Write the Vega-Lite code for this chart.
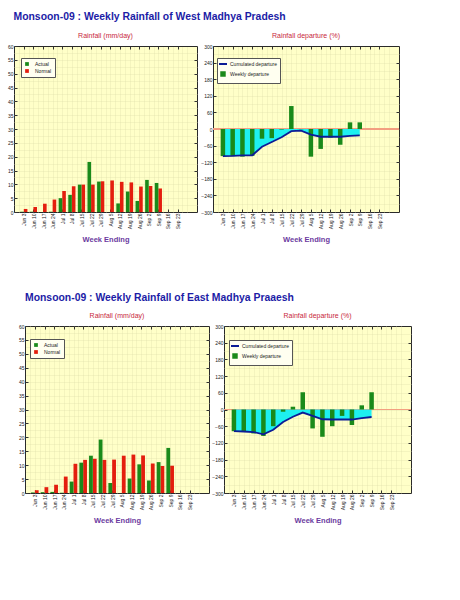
{
  "$schema": "https://vega.github.io/schema/vega-lite/v6.json",
  "background": "white",
  "padding": {"left": 0, "top": 12, "right": 0, "bottom": 0},
  "config": {
    "font": "Liberation Sans",
    "view": {"stroke": "#2a2a2a", "strokeWidth": 1, "fill": "#ffffc8"},
    "axis": {"labelFontSize": 5, "labelColor": "#222222", "domain": false, "ticks": false, "grid": false, "title": null, "labelOverlap": false, "labelBound": false, "labelFlush": false},
    "title": {"font": "Liberation Sans"},
    "legend": {"labelFont": "Liberation Sans"}
  },
  "datasets": {
    "wRain": [
      {"w": 0, "s": "Actual", "v": 0.1}, {"w": 0, "s": "Normal", "v": 1.1},
      {"w": 1, "s": "Actual", "v": 0.1}, {"w": 1, "s": "Normal", "v": 1.8},
      {"w": 2, "s": "Actual", "v": 0.0}, {"w": 2, "s": "Normal", "v": 3.0},
      {"w": 3, "s": "Actual", "v": 0.1}, {"w": 3, "s": "Normal", "v": 4.5},
      {"w": 4, "s": "Actual", "v": 5.0}, {"w": 4, "s": "Normal", "v": 7.6},
      {"w": 5, "s": "Actual", "v": 6.2}, {"w": 5, "s": "Normal", "v": 9.3},
      {"w": 6, "s": "Actual", "v": 9.9}, {"w": 6, "s": "Normal", "v": 9.9},
      {"w": 7, "s": "Actual", "v": 18.1}, {"w": 7, "s": "Normal", "v": 9.9},
      {"w": 8, "s": "Actual", "v": 11.0}, {"w": 8, "s": "Normal", "v": 11.1},
      {"w": 9, "s": "Actual", "v": 0.0}, {"w": 9, "s": "Normal", "v": 11.4},
      {"w": 10, "s": "Actual", "v": 3.1}, {"w": 10, "s": "Normal", "v": 10.9},
      {"w": 11, "s": "Actual", "v": 7.4}, {"w": 11, "s": "Normal", "v": 10.7},
      {"w": 12, "s": "Actual", "v": 4.0}, {"w": 12, "s": "Normal", "v": 9.2},
      {"w": 13, "s": "Actual", "v": 11.6}, {"w": 13, "s": "Normal", "v": 9.4},
      {"w": 14, "s": "Actual", "v": 10.5}, {"w": 14, "s": "Normal", "v": 8.5}
    ],
    "wDep": [
      {"w": 0, "weekly": -98, "cum": -98},
      {"w": 1, "weekly": -98, "cum": -97},
      {"w": 2, "weekly": -100, "cum": -95},
      {"w": 3, "weekly": -97, "cum": -95},
      {"w": 4, "weekly": -35, "cum": -64},
      {"w": 5, "weekly": -33, "cum": -47},
      {"w": 6, "weekly": -2, "cum": -30},
      {"w": 7, "weekly": 83, "cum": -8},
      {"w": 8, "weekly": -1, "cum": -6},
      {"w": 9, "weekly": -100, "cum": -20},
      {"w": 10, "weekly": -72, "cum": -28},
      {"w": 11, "weekly": -31, "cum": -28},
      {"w": 12, "weekly": -57, "cum": -28},
      {"w": 13, "weekly": 24, "cum": -25},
      {"w": 14, "weekly": 24, "cum": -23}
    ],
    "eRain": [
      {"w": 0, "s": "Actual", "v": 0.2}, {"w": 0, "s": "Normal", "v": 1.0},
      {"w": 1, "s": "Actual", "v": 0.3}, {"w": 1, "s": "Normal", "v": 2.1},
      {"w": 2, "s": "Actual", "v": 0.4}, {"w": 2, "s": "Normal", "v": 3.0},
      {"w": 3, "s": "Actual", "v": 0.1}, {"w": 3, "s": "Normal", "v": 5.9},
      {"w": 4, "s": "Actual", "v": 4.1}, {"w": 4, "s": "Normal", "v": 10.5},
      {"w": 5, "s": "Actual", "v": 10.9}, {"w": 5, "s": "Normal", "v": 11.9},
      {"w": 6, "s": "Actual", "v": 13.4}, {"w": 6, "s": "Normal", "v": 12.3},
      {"w": 7, "s": "Actual", "v": 19.2}, {"w": 7, "s": "Normal", "v": 11.9},
      {"w": 8, "s": "Actual", "v": 3.6}, {"w": 8, "s": "Normal", "v": 12.0},
      {"w": 9, "s": "Actual", "v": 0.0}, {"w": 9, "s": "Normal", "v": 13.4},
      {"w": 10, "s": "Actual", "v": 5.2}, {"w": 10, "s": "Normal", "v": 13.8},
      {"w": 11, "s": "Actual", "v": 10.3}, {"w": 11, "s": "Normal", "v": 13.5},
      {"w": 12, "s": "Actual", "v": 4.5}, {"w": 12, "s": "Normal", "v": 10.6},
      {"w": 13, "s": "Actual", "v": 11.1}, {"w": 13, "s": "Normal", "v": 9.7},
      {"w": 14, "s": "Actual", "v": 16.2}, {"w": 14, "s": "Normal", "v": 9.8}
    ],
    "eDep": [
      {"w": 0, "weekly": -78, "cum": -78},
      {"w": 1, "weekly": -78, "cum": -79},
      {"w": 2, "weekly": -86, "cum": -81},
      {"w": 3, "weekly": -95, "cum": -89},
      {"w": 4, "weekly": -60, "cum": -73},
      {"w": 5, "weekly": -8, "cum": -45},
      {"w": 6, "weekly": 10, "cum": -26},
      {"w": 7, "weekly": 62, "cum": -11},
      {"w": 8, "weekly": -68, "cum": -23},
      {"w": 9, "weekly": -98, "cum": -35},
      {"w": 10, "weekly": -60, "cum": -36},
      {"w": 11, "weekly": -23, "cum": -36},
      {"w": 12, "weekly": -56, "cum": -36},
      {"w": 13, "weekly": 15, "cum": -31},
      {"w": 14, "weekly": 62, "cum": -27}
    ]
  },
  "spacing": 49,
  "resolve": {"scale": {"color": "independent"}, "legend": {"color": "independent"}},
  "vconcat": [
    {
      "title": {"text": "Monsoon-09 : Weekly Rainfall of  West Madhya Pradesh", "fontSize": 10.4, "fontWeight": "bold", "color": "#1c1ca6", "anchor": "start", "offset": 9, "dx": 13},
      "spacing": 2,
      "resolve": {"scale": {"color": "independent"}, "legend": {"color": "independent"}},
      "hconcat": [
        {
          "width": 183, "height": 166,
          "title": {"text": "Rainfall (mm/day)", "fontSize": 7, "fontWeight": "normal", "color": "#c8283c", "offset": 5},
          "data": {"name": "wRain"},
          "resolve": {"axis": {"x": "independent", "y": "independent"}},
          "layer": [
            {
              "mark": {"type": "point", "opacity": 0},
              "encoding": {
                "x": {"field": "w", "type": "quantitative", "scale": {"domain": [-0.5, 17.5], "nice": false, "zero": false},
                  "axis": {"orient": "top", "values": [-0.5, 0, 0.5, 1, 1.5, 2, 2.5, 3, 3.5, 4, 4.5, 5, 5.5, 6, 6.5, 7, 7.5, 8, 8.5, 9, 9.5, 10, 10.5, 11, 11.5, 12, 12.5, 13, 13.5, 14, 14.5, 15, 15.5, 16, 16.5, 17], "labels": false, "grid": true, "gridColor": "#dcdca8", "gridDash": [1, 1], "gridWidth": 0.6, "minExtent": 0, "maxExtent": 0}},
                "y": {"field": "v", "type": "quantitative", "scale": {"domain": [0, 60], "nice": false},
                  "axis": {"orient": "right", "values": [2.5, 5, 7.5, 10, 12.5, 15, 17.5, 20, 22.5, 25, 27.5, 30, 32.5, 35, 37.5, 40, 42.5, 45, 47.5, 50, 52.5, 55, 57.5], "labels": false, "grid": true, "gridColor": "#dcdca8", "gridDash": [1, 1], "gridWidth": 0.6, "minExtent": 0, "maxExtent": 0}}
              }
            },
            {
              "transform": [{"filter": "datum.s == 'Normal'"}],
              "mark": {"type": "bar", "width": 3.6, "xOffset": 1.8},
              "encoding": {
                "x": {"field": "w", "type": "quantitative",
                  "axis": {"orient": "top", "values": [0, 1, 2, 3, 4, 5, 6, 7, 8, 9, 10, 11, 12, 13, 14, 15, 16], "labels": false, "ticks": true, "tickSize": -3, "tickColor": "#333333", "minExtent": 0, "maxExtent": 0}},
                "y": {"field": "v", "type": "quantitative",
                  "axis": {"orient": "right", "values": [5, 10, 15, 20, 25, 30, 35, 40, 45, 50, 55], "labels": false, "ticks": true, "tickSize": -3, "tickColor": "#333333", "minExtent": 0, "maxExtent": 0}},
                "color": {"field": "s", "type": "nominal", "scale": {"domain": ["Actual", "Normal"], "range": ["#1a8a1a", "#e41e0e"]},
                  "legend": {"orient": "none", "legendX": 7, "legendY": 12, "title": null, "direction": "vertical", "symbolType": "square", "symbolSize": 14, "labelFontSize": 5, "labelColor": "#222222", "strokeColor": "#555555", "fillColor": "#fffff0", "padding": 3, "rowPadding": 1, "labelOffset": 5}}
              }
            },
            {
              "transform": [{"filter": "datum.s == 'Actual'"}],
              "mark": {"type": "bar", "width": 3.6, "xOffset": -1.8},
              "encoding": {
                "x": {"field": "w", "type": "quantitative",
                  "axis": {"orient": "bottom", "values": [0, 1, 2, 3, 4, 5, 6, 7, 8, 9, 10, 11, 12, 13, 14, 15, 16],
                    "labelExpr": "['Jun 3','Jun 10','Jun 17','Jun 24','Jul 1','Jul 8','Jul 15','Jul 22','Jul 29','Aug 5','Aug 12','Aug 19','Aug 26','Sep 2','Sep 9','Sep 16','Sep 23'][datum.value]",
                    "labelAngle": -90, "labelPadding": 4, "ticks": true, "tickSize": -3, "tickColor": "#333333",
                    "title": "Week Ending", "titleFontSize": 7.5, "titleFontWeight": "bold", "titleColor": "#6b3aa0", "titlePadding": 7}},
                "y": {"field": "v", "type": "quantitative",
                  "axis": {"orient": "left", "values": [0, 5, 10, 15, 20, 25, 30, 35, 40, 45, 50, 55, 60], "labelPadding": 4, "ticks": true, "tickSize": -3, "tickColor": "#333333", "minExtent": 13, "maxExtent": 13}},
                "color": {"field": "s", "type": "nominal"}
              }
            }
          ]
        },
        {
          "width": 186, "height": 166,
          "title": {"text": "Rainfall departure (%)", "fontSize": 7, "fontWeight": "normal", "color": "#c8283c", "offset": 5},
          "data": {"name": "wDep"},
          "resolve": {"axis": {"x": "independent", "y": "independent"}},
          "layer": [
            {
              "mark": {"type": "point", "opacity": 0},
              "encoding": {
                "x": {"field": "w", "type": "quantitative", "scale": {"domain": [-0.5, 17.5], "nice": false, "zero": false},
                  "axis": {"orient": "top", "values": [-0.5, 0, 0.5, 1, 1.5, 2, 2.5, 3, 3.5, 4, 4.5, 5, 5.5, 6, 6.5, 7, 7.5, 8, 8.5, 9, 9.5, 10, 10.5, 11, 11.5, 12, 12.5, 13, 13.5, 14, 14.5, 15, 15.5, 16, 16.5, 17], "labels": false, "grid": true, "gridColor": "#dcdca8", "gridDash": [1, 1], "gridWidth": 0.6, "minExtent": 0, "maxExtent": 0}},
                "y": {"field": "weekly", "type": "quantitative", "scale": {"domain": [-300, 300], "nice": false},
                  "axis": {"orient": "right", "values": [-270, -240, -210, -180, -150, -120, -90, -60, -30, 0, 30, 60, 90, 120, 150, 180, 210, 240, 270], "labels": false, "grid": true, "gridColor": "#dcdca8", "gridDash": [1, 1], "gridWidth": 0.6, "minExtent": 0, "maxExtent": 0}}
              }
            },
            {
              "mark": {"type": "rule", "color": "#f2a080", "strokeWidth": 0.8},
              "encoding": {"y": {"datum": 0, "type": "quantitative", "axis": null}}
            },
            {
              "mark": {"type": "area", "color": "#1ef0f0", "opacity": 1},
              "encoding": {
                "x": {"field": "w", "type": "quantitative",
                  "axis": {"orient": "top", "values": [0, 1, 2, 3, 4, 5, 6, 7, 8, 9, 10, 11, 12, 13, 14, 15, 16], "labels": false, "ticks": true, "tickSize": -3, "tickColor": "#333333", "minExtent": 0, "maxExtent": 0}},
                "y": {"field": "cum", "type": "quantitative",
                  "axis": {"orient": "right", "values": [-240, -180, -120, -60, 0, 60, 120, 180, 240], "labels": false, "ticks": true, "tickSize": -3, "tickColor": "#333333", "minExtent": 0, "maxExtent": 0}},
                "y2": {"datum": 0}
              }
            },
            {
              "mark": {"type": "bar", "width": 4.5},
              "encoding": {
                "x": {"field": "w", "type": "quantitative",
                  "axis": {"orient": "bottom", "values": [0, 1, 2, 3, 4, 5, 6, 7, 8, 9, 10, 11, 12, 13, 14, 15, 16],
                    "labelExpr": "['Jun 3','Jun 10','Jun 17','Jun 24','Jul 1','Jul 8','Jul 15','Jul 22','Jul 29','Aug 5','Aug 12','Aug 19','Aug 26','Sep 2','Sep 9','Sep 16','Sep 23'][datum.value]",
                    "labelAngle": -90, "labelPadding": 4, "ticks": true, "tickSize": -3, "tickColor": "#333333",
                    "title": "Week Ending", "titleFontSize": 7.5, "titleFontWeight": "bold", "titleColor": "#6b3aa0", "titlePadding": 7}},
                "y": {"field": "weekly", "type": "quantitative",
                  "axis": {"orient": "left", "values": [-300, -240, -180, -120, -60, 0, 60, 120, 180, 240, 300], "labelPadding": 4, "ticks": true, "tickSize": -3, "tickColor": "#333333", "minExtent": 12, "maxExtent": 12}},
                "y2": {"datum": 0},
                "color": {"datum": "Weekly departure", "type": "nominal",
                  "scale": {"domain": ["Cumulated departure", "Weekly departure"], "range": ["#0c1c96", "#1a8a1a"]},
                  "legend": {"orient": "none", "legendX": 4, "legendY": 12, "title": null, "direction": "vertical", "labelFontSize": 5, "labelColor": "#222222", "strokeColor": "#555555", "fillColor": "#fffff0", "padding": 3, "rowPadding": 0, "labelOffset": 4, "symbolSize": 64,
                    "encode": {"symbols": {"update": {
                      "shape": {"signal": "datum.value === 'Cumulated departure' ? 'stroke' : 'square'"},
                      "size": {"signal": "datum.value === 'Cumulated departure' ? 64 : 12"},
                      "strokeWidth": {"value": 2},
                      "stroke": {"signal": "datum.value === 'Cumulated departure' ? '#0c1c96' : 'transparent'"},
                      "fill": {"signal": "datum.value === 'Cumulated departure' ? 'transparent' : '#1a8a1a'"},
                      "opacity": {"value": 1}}}}}}
              }
            },
            {
              "mark": {"type": "line", "strokeWidth": 1.8},
              "encoding": {
                "x": {"field": "w", "type": "quantitative", "axis": null},
                "y": {"field": "cum", "type": "quantitative", "axis": null},
                "color": {"datum": "Cumulated departure", "type": "nominal"}
              }
            }
          ]
        }
      ]
    },
    {
      "title": {"text": "Monsoon-09 : Weekly Rainfall of  East Madhya Praaesh", "fontSize": 10.4, "fontWeight": "bold", "color": "#1c1ca6", "anchor": "start", "offset": 8, "dx": 11},
      "spacing": 1,
      "resolve": {"scale": {"color": "independent"}, "legend": {"color": "independent"}},
      "hconcat": [
        {
          "width": 1, "height": 1,
          "view": {"stroke": null, "fill": null},
          "data": {"values": [{"a": 0}]},
          "mark": {"type": "point", "opacity": 0, "size": 0, "strokeWidth": 0},
          "encoding": {}
        },
        {
          "width": 184, "height": 167,
          "title": {"text": "Rainfall (mm/day)", "fontSize": 7, "fontWeight": "normal", "color": "#c8283c", "offset": 5},
          "data": {"name": "eRain"},
          "resolve": {"axis": {"x": "independent", "y": "independent"}},
          "layer": [
            {
              "mark": {"type": "point", "opacity": 0},
              "encoding": {
                "x": {"field": "w", "type": "quantitative", "scale": {"domain": [-0.5, 17.5], "nice": false, "zero": false},
                  "axis": {"orient": "top", "values": [-0.5, 0, 0.5, 1, 1.5, 2, 2.5, 3, 3.5, 4, 4.5, 5, 5.5, 6, 6.5, 7, 7.5, 8, 8.5, 9, 9.5, 10, 10.5, 11, 11.5, 12, 12.5, 13, 13.5, 14, 14.5, 15, 15.5, 16, 16.5, 17], "labels": false, "grid": true, "gridColor": "#dcdca8", "gridDash": [1, 1], "gridWidth": 0.6, "minExtent": 0, "maxExtent": 0}},
                "y": {"field": "v", "type": "quantitative", "scale": {"domain": [0, 60], "nice": false},
                  "axis": {"orient": "right", "values": [2.5, 5, 7.5, 10, 12.5, 15, 17.5, 20, 22.5, 25, 27.5, 30, 32.5, 35, 37.5, 40, 42.5, 45, 47.5, 50, 52.5, 55, 57.5], "labels": false, "grid": true, "gridColor": "#dcdca8", "gridDash": [1, 1], "gridWidth": 0.6, "minExtent": 0, "maxExtent": 0}}
              }
            },
            {
              "transform": [{"filter": "datum.s == 'Normal'"}],
              "mark": {"type": "bar", "width": 3.8, "xOffset": 1.9},
              "encoding": {
                "x": {"field": "w", "type": "quantitative",
                  "axis": {"orient": "top", "values": [0, 1, 2, 3, 4, 5, 6, 7, 8, 9, 10, 11, 12, 13, 14, 15, 16], "labels": false, "ticks": true, "tickSize": -3, "tickColor": "#333333", "minExtent": 0, "maxExtent": 0}},
                "y": {"field": "v", "type": "quantitative",
                  "axis": {"orient": "right", "values": [5, 10, 15, 20, 25, 30, 35, 40, 45, 50, 55], "labels": false, "ticks": true, "tickSize": -3, "tickColor": "#333333", "minExtent": 0, "maxExtent": 0}},
                "color": {"field": "s", "type": "nominal", "scale": {"domain": ["Actual", "Normal"], "range": ["#1a8a1a", "#e41e0e"]},
                  "legend": {"orient": "none", "legendX": 5, "legendY": 13, "title": null, "direction": "vertical", "symbolType": "square", "symbolSize": 14, "labelFontSize": 5, "labelColor": "#222222", "strokeColor": "#555555", "fillColor": "#fffff0", "padding": 3, "rowPadding": 1, "labelOffset": 5}}
              }
            },
            {
              "transform": [{"filter": "datum.s == 'Actual'"}],
              "mark": {"type": "bar", "width": 3.8, "xOffset": -1.9},
              "encoding": {
                "x": {"field": "w", "type": "quantitative",
                  "axis": {"orient": "bottom", "values": [0, 1, 2, 3, 4, 5, 6, 7, 8, 9, 10, 11, 12, 13, 14, 15, 16],
                    "labelExpr": "['Jun 3','Jun 10','Jun 17','Jun 24','Jul 1','Jul 8','Jul 15','Jul 22','Jul 29','Aug 5','Aug 12','Aug 19','Aug 26','Sep 2','Sep 9','Sep 16','Sep 23'][datum.value]",
                    "labelAngle": -90, "labelPadding": 4, "ticks": true, "tickSize": -3, "tickColor": "#333333",
                    "title": "Week Ending", "titleFontSize": 7.5, "titleFontWeight": "bold", "titleColor": "#6b3aa0", "titlePadding": 7}},
                "y": {"field": "v", "type": "quantitative",
                  "axis": {"orient": "left", "values": [0, 5, 10, 15, 20, 25, 30, 35, 40, 45, 50, 55, 60], "labelPadding": 4, "ticks": true, "tickSize": -3, "tickColor": "#333333", "minExtent": 8, "maxExtent": 8}},
                "color": {"field": "s", "type": "nominal"}
              }
            }
          ]
        },
        {
          "width": 187, "height": 167,
          "title": {"text": "Rainfall departure (%)", "fontSize": 7, "fontWeight": "normal", "color": "#c8283c", "offset": 5},
          "data": {"name": "eDep"},
          "resolve": {"axis": {"x": "independent", "y": "independent"}},
          "layer": [
            {
              "mark": {"type": "point", "opacity": 0},
              "encoding": {
                "x": {"field": "w", "type": "quantitative", "scale": {"domain": [-0.5, 17.5], "nice": false, "zero": false},
                  "axis": {"orient": "top", "values": [-0.5, 0, 0.5, 1, 1.5, 2, 2.5, 3, 3.5, 4, 4.5, 5, 5.5, 6, 6.5, 7, 7.5, 8, 8.5, 9, 9.5, 10, 10.5, 11, 11.5, 12, 12.5, 13, 13.5, 14, 14.5, 15, 15.5, 16, 16.5, 17], "labels": false, "grid": true, "gridColor": "#dcdca8", "gridDash": [1, 1], "gridWidth": 0.6, "minExtent": 0, "maxExtent": 0}},
                "y": {"field": "weekly", "type": "quantitative", "scale": {"domain": [-300, 300], "nice": false},
                  "axis": {"orient": "right", "values": [-270, -240, -210, -180, -150, -120, -90, -60, -30, 0, 30, 60, 90, 120, 150, 180, 210, 240, 270], "labels": false, "grid": true, "gridColor": "#dcdca8", "gridDash": [1, 1], "gridWidth": 0.6, "minExtent": 0, "maxExtent": 0}}
              }
            },
            {
              "mark": {"type": "rule", "color": "#f2a080", "strokeWidth": 0.8},
              "encoding": {"y": {"datum": 0, "type": "quantitative", "axis": null}}
            },
            {
              "mark": {"type": "area", "color": "#1ef0f0", "opacity": 1},
              "encoding": {
                "x": {"field": "w", "type": "quantitative",
                  "axis": {"orient": "top", "values": [0, 1, 2, 3, 4, 5, 6, 7, 8, 9, 10, 11, 12, 13, 14, 15, 16], "labels": false, "ticks": true, "tickSize": -3, "tickColor": "#333333", "minExtent": 0, "maxExtent": 0}},
                "y": {"field": "cum", "type": "quantitative",
                  "axis": {"orient": "right", "values": [-240, -180, -120, -60, 0, 60, 120, 180, 240], "labels": false, "ticks": true, "tickSize": -3, "tickColor": "#333333", "minExtent": 0, "maxExtent": 0}},
                "y2": {"datum": 0}
              }
            },
            {
              "mark": {"type": "bar", "width": 4.5},
              "encoding": {
                "x": {"field": "w", "type": "quantitative",
                  "axis": {"orient": "bottom", "values": [0, 1, 2, 3, 4, 5, 6, 7, 8, 9, 10, 11, 12, 13, 14, 15, 16],
                    "labelExpr": "['Jun 3','Jun 10','Jun 17','Jun 24','Jul 1','Jul 8','Jul 15','Jul 22','Jul 29','Aug 5','Aug 12','Aug 19','Aug 26','Sep 2','Sep 9','Sep 16','Sep 23'][datum.value]",
                    "labelAngle": -90, "labelPadding": 4, "ticks": true, "tickSize": -3, "tickColor": "#333333",
                    "title": "Week Ending", "titleFontSize": 7.5, "titleFontWeight": "bold", "titleColor": "#6b3aa0", "titlePadding": 7}},
                "y": {"field": "weekly", "type": "quantitative",
                  "axis": {"orient": "left", "values": [-300, -240, -180, -120, -60, 0, 60, 120, 180, 240, 300], "labelPadding": 4, "ticks": true, "tickSize": -3, "tickColor": "#333333", "minExtent": 11, "maxExtent": 11}},
                "y2": {"datum": 0},
                "color": {"datum": "Weekly departure", "type": "nominal",
                  "scale": {"domain": ["Cumulated departure", "Weekly departure"], "range": ["#0c1c96", "#1a8a1a"]},
                  "legend": {"orient": "none", "legendX": 5, "legendY": 14, "title": null, "direction": "vertical", "labelFontSize": 5, "labelColor": "#222222", "strokeColor": "#555555", "fillColor": "#fffff0", "padding": 3, "rowPadding": 0, "labelOffset": 4, "symbolSize": 64,
                    "encode": {"symbols": {"update": {
                      "shape": {"signal": "datum.value === 'Cumulated departure' ? 'stroke' : 'square'"},
                      "size": {"signal": "datum.value === 'Cumulated departure' ? 64 : 12"},
                      "strokeWidth": {"value": 2},
                      "stroke": {"signal": "datum.value === 'Cumulated departure' ? '#0c1c96' : 'transparent'"},
                      "fill": {"signal": "datum.value === 'Cumulated departure' ? 'transparent' : '#1a8a1a'"},
                      "opacity": {"value": 1}}}}}}
              }
            },
            {
              "mark": {"type": "line", "strokeWidth": 1.8},
              "encoding": {
                "x": {"field": "w", "type": "quantitative", "axis": null},
                "y": {"field": "cum", "type": "quantitative", "axis": null},
                "color": {"datum": "Cumulated departure", "type": "nominal"}
              }
            }
          ]
        }
      ]
    }
  ]
}
